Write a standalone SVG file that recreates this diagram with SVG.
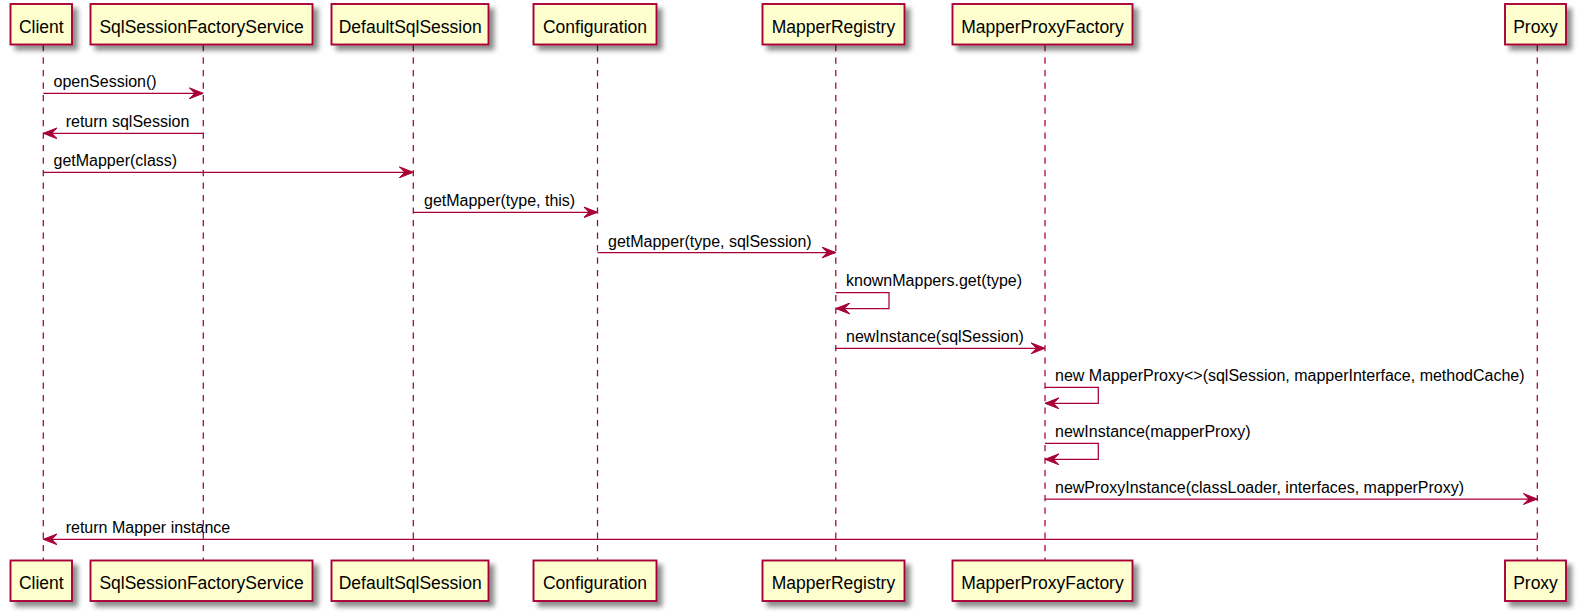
<svg xmlns="http://www.w3.org/2000/svg" width="1578" height="614" viewBox="0 0 1578 614">
<defs>
<filter id="sh" x="-10%" y="-10%" width="130%" height="150%">
<feGaussianBlur in="SourceAlpha" stdDeviation="2.5" result="b"/>
<feOffset in="b" dx="5" dy="5" result="o"/>
<feComponentTransfer in="o" result="c"><feFuncA type="linear" slope="0.45"/></feComponentTransfer>
<feMerge><feMergeNode in="c"/><feMergeNode in="SourceGraphic"/></feMerge>
</filter>
<marker id="ah" viewBox="0 0 14 12" refX="14" refY="6" markerWidth="14" markerHeight="12" markerUnits="userSpaceOnUse" orient="auto">
<path d="M0,0.5 L14,6 L0,11.5 L5.5,6 Z" fill="#A80036" stroke="#A80036" stroke-width="1"/>
</marker>
</defs>
<style>
.box{fill:#FEFECE;stroke:#A80036;stroke-width:1.9;filter:url(#sh)}
.pt{font-family:"Liberation Sans",Arial,sans-serif;font-size:17.5px;fill:#000;text-anchor:middle}
.life{stroke:#A80036;stroke-width:1.25;stroke-dasharray:6.25,6.25;fill:none}
.msg{stroke:#A80036;stroke-width:1.25;fill:none;marker-end:url(#ah)}
.mt{font-family:"Liberation Sans",Arial,sans-serif;font-size:16px;fill:#000}
</style>
<rect width="1578" height="614" fill="#FFFFFF"/>
<g id="lifelines">
<line class="life" x1="43.3" y1="45" x2="43.3" y2="560"/>
<line class="life" x1="203.3" y1="45" x2="203.3" y2="560"/>
<line class="life" x1="413.3" y1="45" x2="413.3" y2="560"/>
<line class="life" x1="597.5" y1="45" x2="597.5" y2="560"/>
<line class="life" x1="835.8" y1="45" x2="835.8" y2="560"/>
<line class="life" x1="1045" y1="45" x2="1045" y2="560"/>
<line class="life" x1="1537.3" y1="45" x2="1537.3" y2="560"/>
</g>
<g id="Client">
<rect class="box" x="10.5" y="4" width="61.5" height="40.5"/>
<text class="pt" x="41.3" y="32.5">Client</text>
<rect class="box" x="10.5" y="560.5" width="61.5" height="40.5"/>
<text class="pt" x="41.3" y="589">Client</text>
</g>
<g id="SqlSessionFactoryService">
<rect class="box" x="90.5" y="4" width="222" height="40.5"/>
<text class="pt" x="201.5" y="32.5">SqlSessionFactoryService</text>
<rect class="box" x="90.5" y="560.5" width="222" height="40.5"/>
<text class="pt" x="201.5" y="589">SqlSessionFactoryService</text>
</g>
<g id="DefaultSqlSession">
<rect class="box" x="331.5" y="4" width="157" height="40.5"/>
<text class="pt" x="410.2" y="32.5">DefaultSqlSession</text>
<rect class="box" x="331.5" y="560.5" width="157" height="40.5"/>
<text class="pt" x="410.2" y="589">DefaultSqlSession</text>
</g>
<g id="Configuration">
<rect class="box" x="533.5" y="4" width="123" height="40.5"/>
<text class="pt" x="595" y="32.5">Configuration</text>
<rect class="box" x="533.5" y="560.5" width="123" height="40.5"/>
<text class="pt" x="595" y="589">Configuration</text>
</g>
<g id="MapperRegistry">
<rect class="box" x="762.5" y="4" width="142" height="40.5"/>
<text class="pt" x="833.4" y="32.5">MapperRegistry</text>
<rect class="box" x="762.5" y="560.5" width="142" height="40.5"/>
<text class="pt" x="833.4" y="589">MapperRegistry</text>
</g>
<g id="MapperProxyFactory">
<rect class="box" x="952.5" y="4" width="180" height="40.5"/>
<text class="pt" x="1042.5" y="32.5">MapperProxyFactory</text>
<rect class="box" x="952.5" y="560.5" width="180" height="40.5"/>
<text class="pt" x="1042.5" y="589">MapperProxyFactory</text>
</g>
<g id="Proxy">
<rect class="box" x="1505" y="4" width="61" height="40.5"/>
<text class="pt" x="1535.5" y="32.5">Proxy</text>
<rect class="box" x="1505" y="560.5" width="61" height="40.5"/>
<text class="pt" x="1535.5" y="589">Proxy</text>
</g>
<g id="connectors">
<line class="msg" x1="43.3" y1="93.3" x2="203.3" y2="93.3"/>
<text class="mt" x="53.5" y="87.3">openSession()</text>
<line class="msg" x1="203.3" y1="133.3" x2="43.3" y2="133.3"/>
<text class="mt" x="65.7" y="127.3">return sqlSession</text>
<line class="msg" x1="43.3" y1="172.3" x2="413.3" y2="172.3"/>
<text class="mt" x="53.5" y="166.3">getMapper(class)</text>
<line class="msg" x1="413.3" y1="212.3" x2="597.5" y2="212.3"/>
<text class="mt" x="424" y="206.3">getMapper(type, this)</text>
<line class="msg" x1="597.5" y1="252.5" x2="835.8" y2="252.5"/>
<text class="mt" x="608" y="246.5">getMapper(type, sqlSession)</text>
<polyline class="msg" points="835.8,292.7 889,292.7 889,308.5 835.8,308.5"/>
<text class="mt" x="846" y="285.5">knownMappers.get(type)</text>
<line class="msg" x1="835.8" y1="348.3" x2="1045" y2="348.3"/>
<text class="mt" x="846" y="342.3">newInstance(sqlSession)</text>
<polyline class="msg" points="1045,387.3 1098.3,387.3 1098.3,403.3 1045,403.3"/>
<text class="mt" x="1055" y="380.5">new MapperProxy&lt;&gt;(sqlSession, mapperInterface, methodCache)</text>
<polyline class="msg" points="1045,443.3 1098.3,443.3 1098.3,459.3 1045,459.3"/>
<text class="mt" x="1055" y="436.7">newInstance(mapperProxy)</text>
<line class="msg" x1="1045" y1="499" x2="1537.3" y2="499"/>
<text class="mt" x="1055" y="493">newProxyInstance(classLoader, interfaces, mapperProxy)</text>
<line class="msg" x1="1537.3" y1="539.3" x2="43.3" y2="539.3"/>
<text class="mt" x="65.7" y="533.3">return Mapper instance</text>
</g>
</svg>
